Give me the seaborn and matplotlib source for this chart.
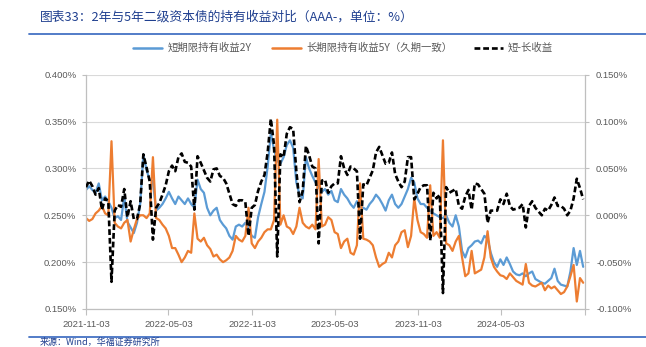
import matplotlib
matplotlib.use("Agg")
import matplotlib.pyplot as plt
import matplotlib.ticker as mticker
from matplotlib.lines import Line2D
import seaborn as sns
import pandas as pd

# ---------------- data (values in %) ----------------
short_2y = [
    0.277, 0.281, 0.277, 0.274, 0.284, 0.266, 0.270, 0.265, 0.258, 0.247,
    0.249, 0.245, 0.270, 0.243, 0.237, 0.231, 0.242, 0.262, 0.315, 0.298,
    0.288, 0.286, 0.255, 0.258, 0.262, 0.268, 0.275, 0.268, 0.262, 0.270,
    0.266, 0.262, 0.268, 0.262, 0.258, 0.288, 0.278, 0.274, 0.258, 0.250,
    0.255, 0.258, 0.245, 0.240, 0.236, 0.228, 0.224, 0.238, 0.240, 0.238,
    0.242, 0.236, 0.228, 0.226, 0.248, 0.262, 0.275, 0.302, 0.338, 0.320,
    0.308, 0.305, 0.312, 0.325, 0.330, 0.322, 0.285, 0.272, 0.268, 0.312,
    0.300, 0.292, 0.285, 0.280, 0.275, 0.278, 0.272, 0.276, 0.266, 0.264,
    0.278, 0.272, 0.268, 0.262, 0.258, 0.265, 0.259, 0.258, 0.256, 0.262,
    0.266, 0.272, 0.268, 0.262, 0.255, 0.266, 0.272, 0.262, 0.258, 0.262,
    0.270, 0.278, 0.290, 0.285, 0.268, 0.262, 0.262, 0.258, 0.255, 0.252,
    0.250, 0.248, 0.247, 0.250, 0.242, 0.238, 0.250, 0.238, 0.212, 0.205,
    0.215, 0.218, 0.222, 0.223, 0.220, 0.228, 0.225, 0.210, 0.200, 0.195,
    0.203, 0.197, 0.205, 0.198, 0.190, 0.187, 0.186, 0.188, 0.185, 0.188,
    0.190, 0.182, 0.180, 0.178, 0.177, 0.180, 0.183, 0.193, 0.180, 0.176,
    0.175, 0.174, 0.190, 0.215, 0.197, 0.212, 0.195,
]
long_5y = [
    0.247, 0.244, 0.246, 0.252, 0.255, 0.260, 0.252, 0.250, 0.329, 0.242,
    0.238, 0.236, 0.242, 0.245, 0.222, 0.235, 0.246, 0.250, 0.250, 0.247,
    0.252, 0.312, 0.247, 0.245, 0.240, 0.236, 0.228, 0.215, 0.215, 0.208,
    0.200, 0.205, 0.212, 0.210, 0.252, 0.225, 0.222, 0.226, 0.218, 0.214,
    0.206, 0.208, 0.203, 0.200, 0.202, 0.205, 0.212, 0.228, 0.224, 0.222,
    0.228, 0.258, 0.220, 0.215, 0.222, 0.226, 0.232, 0.235, 0.235, 0.245,
    0.352, 0.240, 0.250, 0.238, 0.236, 0.230, 0.238, 0.258, 0.242, 0.238,
    0.236, 0.240, 0.235, 0.310, 0.238, 0.240, 0.248, 0.245, 0.232, 0.230,
    0.215, 0.222, 0.225, 0.210, 0.208, 0.218, 0.284, 0.225, 0.224, 0.222,
    0.218, 0.205, 0.195, 0.198, 0.200, 0.210, 0.205, 0.218, 0.222, 0.232,
    0.234, 0.216, 0.228, 0.268, 0.245, 0.232, 0.230, 0.226, 0.282, 0.228,
    0.232, 0.226, 0.330, 0.220, 0.218, 0.212, 0.222, 0.228, 0.205, 0.185,
    0.188, 0.212, 0.188, 0.190, 0.192, 0.205, 0.233, 0.205, 0.195, 0.190,
    0.186, 0.185, 0.182, 0.188, 0.184, 0.180, 0.178, 0.176, 0.198, 0.178,
    0.175, 0.174, 0.176, 0.178, 0.170, 0.175, 0.172, 0.174, 0.170, 0.166,
    0.168, 0.174, 0.185, 0.197, 0.158, 0.183, 0.178,
]
# 短-长收益 = short minus long
spread = [s - l for s, l in zip(short_2y, long_5y)]
dates = pd.date_range(start="2021-11-03", periods=len(short_2y), freq="7D")

tick_dates = pd.to_datetime(["2021-11-03", "2022-05-03", "2022-11-03", "2023-05-03",
                             "2023-11-03", "2024-05-03", "2024-11-03"])
tick_labels = ["2021-11-03", "2022-05-03", "2022-11-03", "2023-05-03",
               "2023-11-03", "2024-05-03", ""]

left_ticks = [0.150, 0.200, 0.250, 0.300, 0.350, 0.400]
right_ticks = [-0.100, -0.050, 0.000, 0.050, 0.100, 0.150]

labels = ["短期限持有收益2Y", "长期限持有收益5Y（久期一致）", "短-长收益"]
title = "图表33：2年与5年二级资本债的持有收益对比（AAA-，单位：%）"
source = "来源：Wind，华福证券研究所"

# ---------------- style ----------------
sns.set_theme(style="white")
plt.rcParams["font.family"] = ["Liberation Sans", "Noto Sans CJK SC", "DejaVu Sans"]
CJK = ["Noto Sans CJK SC", "DejaVu Sans"]

BLUE = "#5B9BD5"
ORANGE = "#ED7D31"
GREY_TXT = "#595959"
AXIS = "#BFBFBF"
GRID = "#D9D9D9"
TITLE_BLUE = "#1F3F8F"
RULE_BLUE = "#4472C4"

W, H = 646, 347
fig = plt.figure(figsize=(W / 100, H / 100), dpi=100)
ax = fig.add_axes([86 / W, 1 - 309 / H, (585 - 86) / W, (309 - 74.7) / H])
ax2 = ax.twinx()

sns.lineplot(x=dates, y=short_2y, ax=ax, color=BLUE, linewidth=1.6)
sns.lineplot(x=dates, y=long_5y, ax=ax, color=ORANGE, linewidth=1.6)
sns.lineplot(x=dates, y=spread, ax=ax2, color="black", linewidth=1.9,
             linestyle=(0, (2.2, 1.1)))

ax.set_ylim(0.15, 0.40)
ax2.set_ylim(-0.10, 0.15)
ax.set_xlim(pd.Timestamp("2021-11-03"), pd.Timestamp("2024-11-03"))

ax.set_yticks(left_ticks)
ax.yaxis.set_major_formatter(mticker.FuncFormatter(lambda v, p: f"{v:.3f}%"))
ax2.set_yticks(right_ticks)
ax2.yaxis.set_major_formatter(mticker.FuncFormatter(lambda v, p: f"{v:.3f}%"))
ax.set_xticks(tick_dates)
ax.set_xticklabels(tick_labels)

ax.grid(axis="y", color=GRID, linewidth=0.8)
ax.grid(axis="x", visible=False)
ax2.grid(False)
ax.set_xlabel("")
ax.set_ylabel("")
ax2.set_ylabel("")

for a in (ax, ax2):
    for s in a.spines.values():
        s.set_visible(False)
ax.spines["left"].set_visible(True)
ax.spines["bottom"].set_visible(True)
ax2.spines["right"].set_visible(True)
for s in (ax.spines["left"], ax.spines["bottom"], ax2.spines["right"]):
    s.set_color(AXIS)
    s.set_linewidth(0.9)

ax.tick_params(axis="y", which="both", left=True, length=3, width=0.8, color=AXIS,
               labelsize=6.8, labelcolor=GREY_TXT, pad=4)
ax.tick_params(axis="x", bottom=True, length=4, width=0.8, color=AXIS,
               labelsize=6.8, labelcolor=GREY_TXT, pad=4)
ax2.tick_params(axis="y", right=True, length=3, width=0.8, color=AXIS,
                labelsize=6.8, labelcolor=GREY_TXT, pad=5)

# legend
handles = [Line2D([], [], color=BLUE, lw=1.8),
           Line2D([], [], color=ORANGE, lw=1.8),
           Line2D([], [], color="black", lw=1.9, linestyle=(0, (2.2, 1.1)))]
fig.legend(handles, labels, loc="center", bbox_to_anchor=(343 / W, 1 - 48 / H),
           ncol=3, frameon=False, prop={"family": CJK, "size": 7.5},
           labelcolor=GREY_TXT, handlelength=2.8, columnspacing=2.0,
           handletextpad=0.5)

# title and rules
fig.text(40 / W, 1 - 17 / H, title, ha="left", va="center", fontsize=9.2,
         color=TITLE_BLUE, family=CJK, style="italic")
fig.add_artist(Line2D([29 / W, 1.0], [1 - 34 / H, 1 - 34 / H], color=RULE_BLUE,
                      lw=1.3, transform=fig.transFigure))
fig.add_artist(Line2D([29 / W, 1.0], [1 - 337 / H, 1 - 337 / H], color=RULE_BLUE,
                      lw=1.3, transform=fig.transFigure))
fig.text(40 / W, 1 - 346.5 / H, source, ha="left", va="bottom", fontsize=6.5,
         color=TITLE_BLUE, family=CJK, style="italic")

fig.savefig("out.png", dpi=100)
